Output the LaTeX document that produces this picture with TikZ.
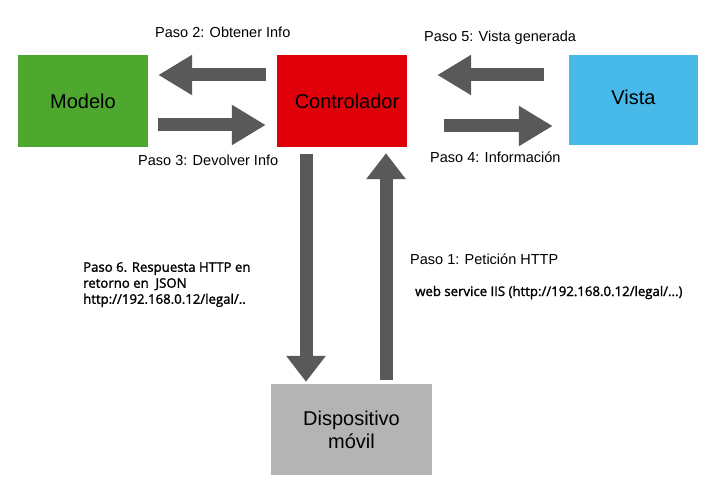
\documentclass[tikz,border=0pt]{standalone}
\usepackage{fontspec}
\setmainfont{Liberation Sans}
\newfontfamily\uifont{Open Sans}[UprightFeatures={FakeBold=1.6}]
\usetikzlibrary{arrows.meta}

\definecolor{modelgreen}{RGB}{78,168,48}
\definecolor{ctrlred}{RGB}{224,0,10}
\definecolor{viewblue}{RGB}{71,186,233}
\definecolor{devgray}{RGB}{180,180,180}
\definecolor{arrowgray}{RGB}{89,89,89}

\tikzset{
  box/.style={minimum width=130pt, minimum height=92pt, inner sep=0pt,
    font=\fontsize{20}{23}\selectfont},
  bigarrow/.style={draw=arrowgray, line width=13pt,
    -{Triangle[width=38pt, length=#1]}},
  bigarrow/.default=34pt,
  steplabel/.style={font=\fontsize{14.5}{17}\selectfont, anchor=base west,
    inner sep=0pt},
  notelabel/.style={font=\uifont\fontsize{13.2}{16}\selectfont,
    anchor=base west, inner sep=0pt, align=left},
}

\begin{document}
\begin{tikzpicture}[x=1pt, y=-1pt]
\useasboundingbox (0,0) rectangle (714,494);

% Define nodes
\path
(83,101) node[box, fill=modelgreen] (model) {Modelo}
(342,101) node[box, fill=ctrlred] (ctrl) {\hspace{10pt}Controlador}
(633.5,100) node[box, fill=viewblue, minimum width=129pt, minimum height=90pt] (view) {\raisebox{6pt}{Vista}}
(351.5,429.5) node[box, fill=devgray, minimum width=161pt, minimum height=91pt, align=center] (device) {Dispositivo\\móvil}
;

% Arrow ends
\path
(ctrl.west) +(-11,-26) coordinate (getS)
(model.east) +(10,-26) coordinate (getE)
(model.east) +(10,24) coordinate (retS)
(ctrl.west) +(-11,24) coordinate (retE)
(ctrl.east) +(37,25) coordinate (infoS)
(view.west) +(-16,26) coordinate (infoE)
(view.west) +(-25,-25) coordinate (genS)
(ctrl.east) +(30,-26) coordinate (genE)
(device.north) +(34.5,-4) coordinate (reqS)
(ctrl.south) +(44,6) coordinate (reqE)
(ctrl.south) +(-36,7) coordinate (resS)
(device.north) +(-45.5,-2) coordinate (resE)
;

\draw[bigarrow] (getS) -- (getE);
\draw[bigarrow] (retS) -- (retE);
\draw[bigarrow] (infoS) -- (infoE);
\draw[bigarrow] (genS) -- (genE);
\draw[bigarrow=26pt] (reqS) -- (reqE);
\draw[bigarrow=26pt] (resS) -- (resE);

% Labels
\path
(155,38) node[steplabel] (get) {Paso 2: Obtener Info}
(138,166) node[steplabel] (ret) {Paso 3: Devolver Info}
(424,42) node[steplabel] (gen) {Paso 5: Vista generada}
(430,163) node[steplabel] (info) {Paso 4: Información}
(410,265) node[steplabel] (req) {Paso 1: Petición HTTP}
(415,296) node[notelabel] (ws) {web service IIS (http://192.168.0.12/legal/...)}
(83,262) node[notelabel, anchor=north west] (res) {Paso 6. Respuesta HTTP en\\retorno en\ \ JSON\\http://192.168.0.12/legal/..}
;

\end{tikzpicture}
\end{document}
